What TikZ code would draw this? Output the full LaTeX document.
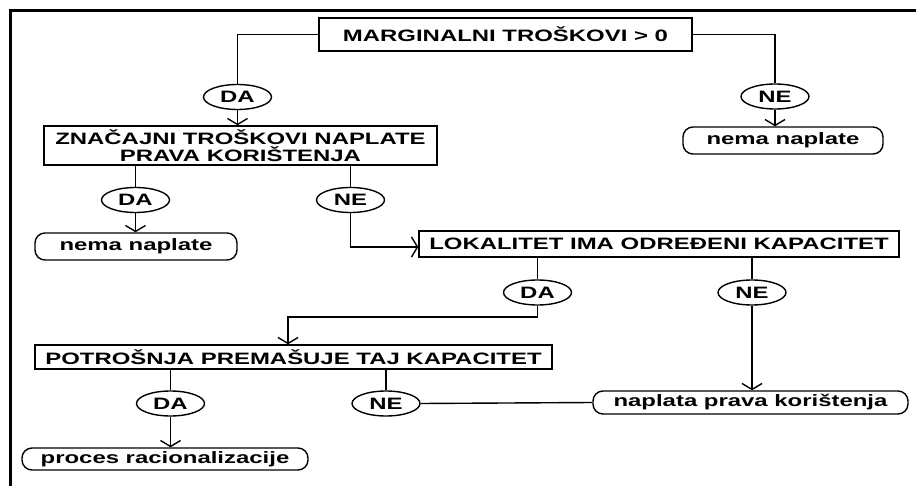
\documentclass[tikz,border=0pt]{standalone}
\usepackage{fontspec}
\setmainfont{Liberation Sans}[FakeStretch=1.45]
\usepackage{tikz}
\usetikzlibrary{arrows.meta,shapes.geometric}

\begin{document}
\begin{tikzpicture}[x=1pt, y=-1pt, line width=1.4pt,
		font=\fontsize{16.5}{17}\selectfont\bfseries,
		question/.style={draw, rectangle, inner sep=0pt, align=center},
		answer/.style={draw, ellipse, inner sep=0pt, minimum width=68pt, minimum height=25pt},
		outcome/.style={draw, rectangle, rounded corners=10pt, inner sep=0pt},
		arr/.style={-{Straight Barb[length=6pt, width=20pt]}}]
	\useasboundingbox (0, 0) rectangle (916, 486);
	\draw [line width=3pt] (10, 486) -- (10, 11) -- (916, 11);

	% questions
	\node at (505.5, 34.5) [question, minimum width=373pt, minimum height=33pt] (marg) {MARGINALNI TROŠKOVI > 0};
	\node at (240.5, 145.5) [question, minimum width=393pt, minimum height=39pt] (znac) {ZNAČAJNI TROŠKOVI NAPLATE\\PRAVA KORIŠTENJA};
	\node at (659, 244) [question, minimum width=480pt, minimum height=26pt] (lok) {LOKALITET IMA ODREĐENI KAPACITET};
	\node at (293.5, 357) [question, minimum width=517pt, minimum height=24pt] (potr) {POTROŠNJA PREMAŠUJE TAJ KAPACITET};

	% answers
	\node at (237.5, 97) [answer] (da1) {DA};
	\node at (775, 96.5) [answer] (ne1) {NE};
	\node at (135.5, 200) [answer] (da2) {DA};
	\node at (350.5, 200) [answer] (ne2) {NE};
	\node at (537.5, 292.5) [answer] (da3) {DA};
	\node at (752, 292.5) [answer] (ne3) {NE};
	\node at (170.5, 403.5) [answer] (da4) {DA};
	\node at (386, 403.5) [answer] (ne4) {NE};

	% outcomes
	\node at (783, 140.5) [outcome, minimum width=200pt, minimum height=27pt] (nema1) {nema naplate};
	\node at (136, 246.5) [outcome, minimum width=202pt, minimum height=27pt] (nema2) {nema naplate};
	\node at (750.5, 402.5) [outcome, minimum width=315pt, minimum height=23pt] (napl) {naplata prava korištenja};
	\node at (165, 459) [outcome, minimum width=286pt, minimum height=22pt] (proc) {proces racionalizacije};

	\coordinate (elbow) at (288, 317);

	\draw (marg.west) -| (da1.north);
	\draw [arr] (da1.south) -- (da1 |- znac.north);
	\draw (marg.east) -| (ne1.north);
	\draw [arr] (ne1.south) -- (ne1 |- nema1.north);

	\draw (da2 |- znac.south) -- (da2.north);
	\draw [arr] (da2.south) -- (da2 |- nema2.north);
	\draw (ne2 |- znac.south) -- (ne2.north);
	\draw [arr] (ne2.south) |- ([yshift=-3pt]lok.west);

	\draw (da3 |- lok.south) -- (da3.north);
	\draw [arr] (da3.south) |- (elbow) -- (elbow |- potr.north);
	\draw (ne3 |- lok.south) -- (ne3.north);
	\draw [arr] (ne3.south) -- (ne3 |- napl.north);

	\draw (da4 |- potr.south) -- (da4.north);
	\draw [arr] (da4.south) -- (da4 |- proc.north);
	\draw (ne4 |- potr.south) -- (ne4.north);
	\draw (ne4.east) -- (napl.west);
\end{tikzpicture}
\end{document}
